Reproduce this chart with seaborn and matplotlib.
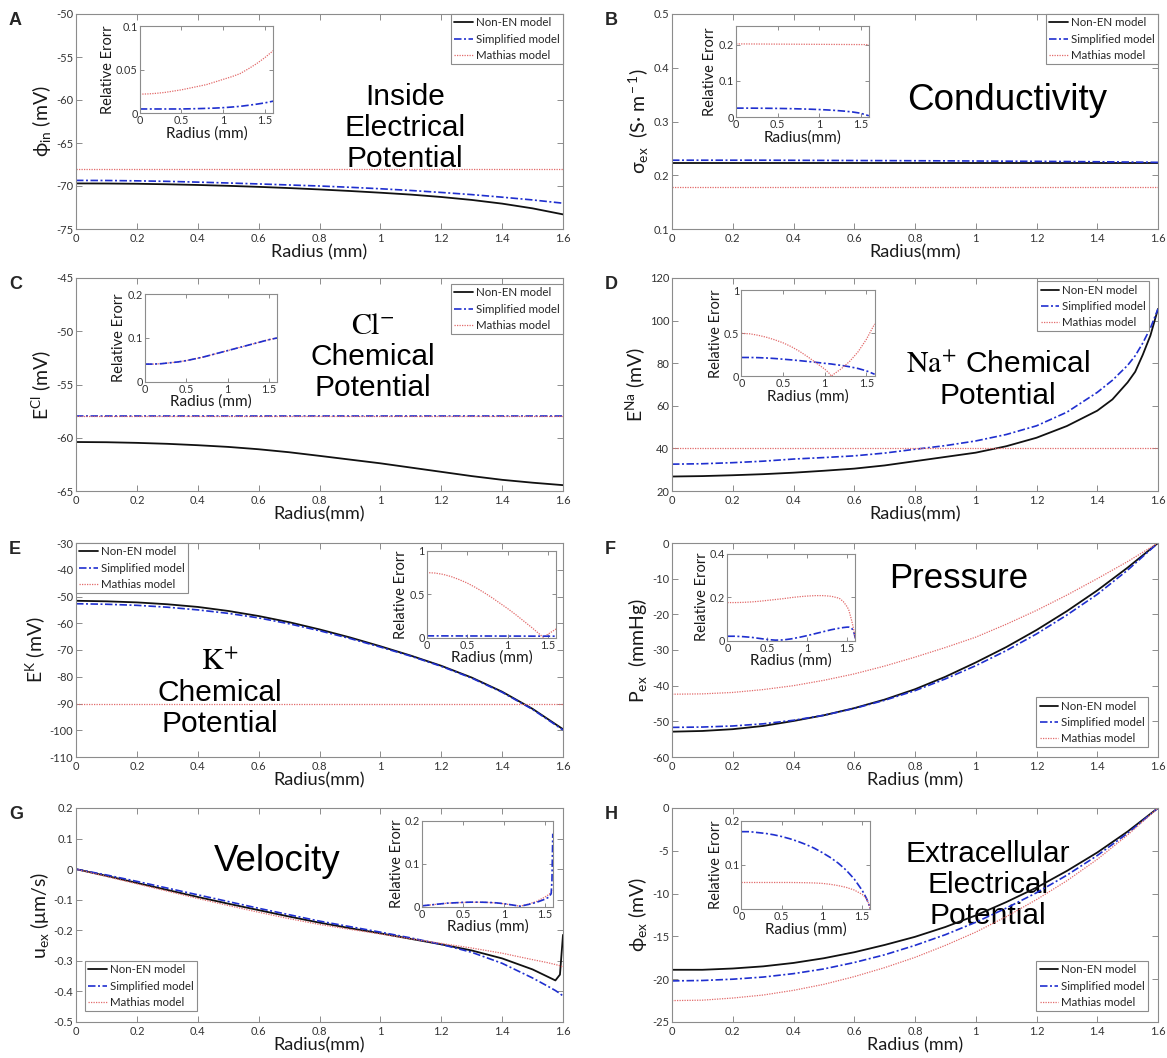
import matplotlib
matplotlib.use("Agg")
import matplotlib.pyplot as plt
from matplotlib.ticker import FuncFormatter
import seaborn as sns

# ---------------------------------------------------------------- data
MODELS = ["Non-EN model", "Simplified model", "Mathias model"]

R = [0.0, 0.1, 0.2, 0.3, 0.4, 0.5, 0.6, 0.7, 0.8, 0.9, 1.0, 1.1, 1.2, 1.3, 1.4, 1.5, 1.6]
R_FLAT = [0.0, 1.6]

# A: inside electrical potential (mV)
A_nonen = [-69.70, -69.71, -69.74, -69.80, -69.88, -69.98, -70.10, -70.24, -70.40,
           -70.58, -70.78, -71.00, -71.28, -71.62, -72.05, -72.60, -73.30]
A_simp = [-69.35, -69.36, -69.40, -69.46, -69.55, -69.65, -69.76, -69.88, -70.00,
          -70.15, -70.32, -70.52, -70.75, -71.00, -71.30, -71.62, -72.00]
A_math = [-68.0, -68.0]
A_err_simp = [0.0050, 0.0050, 0.0050, 0.0050, 0.0050, 0.0050, 0.0052, 0.0054, 0.0057,
              0.0060, 0.0065, 0.0072, 0.0080, 0.0092, 0.0105, 0.0120, 0.0140]
A_err_math = [0.0220, 0.0223, 0.0230, 0.0240, 0.0255, 0.0270, 0.0290, 0.0310, 0.0330,
              0.0360, 0.0390, 0.0420, 0.0455, 0.0510, 0.0570, 0.0640, 0.0720]

# B: conductivity (S/m)
B_nonen = [0.222, 0.222]
B_simp = [0.2280, 0.2280, 0.2280, 0.2280, 0.2278, 0.2276, 0.2274, 0.2272, 0.2270,
          0.2268, 0.2265, 0.2262, 0.2259, 0.2255, 0.2251, 0.2246, 0.2240]
B_math = [0.178, 0.178]
B_err_simp = [0.0250, 0.0250, 0.0249, 0.0247, 0.0245, 0.0242, 0.0238, 0.0233, 0.0227,
              0.0220, 0.0211, 0.0200, 0.0186, 0.0168, 0.0145, 0.0110, 0.0040]
B_err_math = [0.202, 0.200]

# C: Cl- chemical potential (mV)
C_nonen = [-60.40, -60.42, -60.48, -60.57, -60.70, -60.86, -61.08, -61.36, -61.70,
           -62.05, -62.40, -62.80, -63.20, -63.60, -63.95, -64.22, -64.45]
C_simp = [-58.0, -58.0]
C_math = [-58.0, -58.0]
C_err_simp = [0.040, 0.040, 0.041, 0.043, 0.045, 0.048, 0.052, 0.056, 0.061,
              0.066, 0.071, 0.076, 0.081, 0.086, 0.091, 0.096, 0.100]
C_err_math = [0.040, 0.040, 0.041, 0.043, 0.045, 0.048, 0.052, 0.056, 0.061,
              0.066, 0.071, 0.076, 0.081, 0.086, 0.091, 0.096, 0.100]

# D: Na+ chemical potential (mV)
R_D = [0.0, 0.1, 0.2, 0.3, 0.4, 0.5, 0.6, 0.7, 0.8, 0.9, 1.0, 1.1, 1.2, 1.3, 1.4,
       1.45, 1.5, 1.525, 1.55, 1.575, 1.6]
D_nonen = [26.8, 27.0, 27.4, 27.9, 28.6, 29.5, 30.5, 32.0, 34.0, 36.0, 38.0, 41.0,
           45.0, 50.5, 57.7, 63.0, 71.0, 76.0, 84.0, 93.0, 105.5]
D_simp = [32.6, 32.8, 33.3, 34.0, 35.0, 35.7, 36.5, 37.8, 39.6, 41.3, 43.5, 46.5,
          50.6, 57.0, 66.3, 72.0, 79.0, 83.5, 89.5, 96.5, 105.5]
D_math = [40.0, 40.0]
R_D_ERR = [0.0, 0.1, 0.2, 0.3, 0.4, 0.5, 0.6, 0.7, 0.8, 0.9, 1.0, 1.05, 1.08, 1.1,
           1.2, 1.3, 1.4, 1.5, 1.6]
D_err_simp = [0.220, 0.220, 0.218, 0.214, 0.208, 0.200, 0.192, 0.183, 0.173, 0.163,
              0.152, 0.147, 0.144, 0.141, 0.128, 0.112, 0.092, 0.065, 0.025]
D_err_math = [0.500, 0.495, 0.478, 0.455, 0.425, 0.390, 0.345, 0.290, 0.225, 0.155,
              0.085, 0.040, 0.003, 0.020, 0.090, 0.175, 0.285, 0.430, 0.610]

# E: K+ chemical potential (mV)
E_nonen = [-51.6, -51.8, -52.2, -52.9, -53.9, -55.4, -57.3, -59.6, -62.3, -65.3,
           -68.6, -72.1, -75.9, -80.3, -85.6, -92.0, -99.6]
E_simp = [-52.7, -52.9, -53.3, -54.0, -55.0, -56.3, -58.0, -60.2, -62.8, -65.7,
          -68.9, -72.3, -76.1, -80.5, -85.8, -92.2, -99.9]
E_math = [-90.0, -90.0]
R_E_ERR = [0.0, 0.1, 0.2, 0.3, 0.4, 0.5, 0.6, 0.7, 0.8, 0.9, 1.0, 1.1, 1.2, 1.3, 1.4,
           1.44, 1.5, 1.55, 1.6]
E_err_math = [0.750, 0.745, 0.730, 0.705, 0.670, 0.630, 0.580, 0.525, 0.465, 0.400,
              0.335, 0.265, 0.190, 0.115, 0.035, 0.003, 0.040, 0.070, 0.100]
E_err_simp = [0.020, 0.016]

# F: extracellular pressure (mmHg)
F_nonen = [-52.9, -52.7, -52.2, -51.3, -49.9, -48.3, -46.3, -43.9, -41.0, -37.5,
           -33.5, -29.2, -24.4, -19.1, -13.3, -6.9, 0.0]
F_simp = [-51.7, -51.6, -51.3, -50.7, -49.7, -48.3, -46.4, -44.1, -41.4, -38.1,
          -34.4, -30.2, -25.5, -20.2, -14.4, -7.6, 0.0]
F_math = [-42.4, -42.3, -41.9, -41.1, -40.0, -38.5, -36.7, -34.5, -32.0, -29.3,
          -26.4, -22.8, -18.9, -14.6, -10.0, -5.2, 0.0]
R_F_ERR = [0.0, 0.1, 0.2, 0.3, 0.4, 0.5, 0.6, 0.7, 0.8, 0.9, 1.0, 1.1, 1.2, 1.3, 1.4,
           1.45, 1.5, 1.52, 1.55, 1.57, 1.59, 1.6]
F_err_simp = [0.020, 0.020, 0.018, 0.015, 0.010, 0.005, 0.002, 0.003, 0.008, 0.015,
              0.023, 0.032, 0.041, 0.050, 0.057, 0.060, 0.062, 0.062, 0.058, 0.050,
              0.030, 0.010]
F_err_math = [0.175, 0.175, 0.176, 0.178, 0.181, 0.185, 0.189, 0.193, 0.198, 0.202,
              0.205, 0.207, 0.207, 0.204, 0.195, 0.180, 0.155, 0.140, 0.100, 0.070,
              0.035, 0.010]

# G: extracellular velocity (um/s)
R_G = [0.0, 0.1, 0.2, 0.3, 0.4, 0.5, 0.6, 0.7, 0.8, 0.9, 1.0, 1.1, 1.2, 1.3, 1.4,
       1.5, 1.55, 1.575, 1.59, 1.6]
G_nonen = [0.0, -0.022, -0.045, -0.068, -0.091, -0.113, -0.134, -0.155, -0.175, -0.193,
           -0.210, -0.228, -0.246, -0.266, -0.292, -0.328, -0.352, -0.364, -0.345, -0.215]
G_simp = [0.0, -0.019, -0.040, -0.062, -0.084, -0.106, -0.128, -0.149, -0.170, -0.188,
          -0.206, -0.225, -0.246, -0.272, -0.308, -0.356, -0.383, -0.397, -0.407, -0.415]
G_math = [0.0, -0.024, -0.048, -0.072, -0.096, -0.119, -0.141, -0.162, -0.181, -0.197,
          -0.212, -0.228, -0.243, -0.258, -0.275, -0.296, -0.306, -0.312, -0.316, -0.320]
R_G_ERR = [0.0, 0.1, 0.2, 0.3, 0.4, 0.5, 0.6, 0.7, 0.8, 0.9, 1.0, 1.1, 1.2, 1.3, 1.4,
           1.5, 1.55, 1.58, 1.59, 1.6]
G_err_simp = [0.002, 0.004, 0.006, 0.008, 0.009, 0.010, 0.0105, 0.0105, 0.010, 0.009,
              0.007, 0.004, 0.001, 0.005, 0.010, 0.017, 0.022, 0.030, 0.060, 0.170]
G_err_math = [0.002, 0.004, 0.006, 0.008, 0.009, 0.0098, 0.0102, 0.0102, 0.0098, 0.0088,
              0.0068, 0.004, 0.001, 0.006, 0.012, 0.022, 0.028, 0.033, 0.035, 0.038]

# H: extracellular electrical potential (mV)
H_nonen = [-18.9, -18.9, -18.75, -18.5, -18.1, -17.55, -16.85, -16.0, -15.05, -13.9,
           -12.55, -11.0, -9.3, -7.35, -5.2, -2.75, 0.0]
H_simp = [-20.2, -20.15, -20.0, -19.75, -19.35, -18.8, -18.05, -17.15, -16.05, -14.8,
          -13.35, -11.7, -9.9, -7.85, -5.55, -2.95, 0.0]
H_math = [-22.5, -22.45, -22.2, -21.85, -21.3, -20.6, -19.7, -18.65, -17.45, -16.05,
          -14.5, -12.7, -10.7, -8.5, -6.0, -3.15, 0.0]
R_H_ERR = [0.0, 0.1, 0.2, 0.3, 0.4, 0.5, 0.6, 0.7, 0.8, 0.9, 1.0, 1.1, 1.2, 1.3, 1.4,
           1.5, 1.55, 1.58, 1.6]
H_err_simp = [0.175, 0.175, 0.173, 0.171, 0.168, 0.164, 0.159, 0.153, 0.146, 0.138,
              0.128, 0.117, 0.104, 0.088, 0.068, 0.042, 0.025, 0.012, 0.0]
H_err_math = [0.060, 0.060, 0.060, 0.060, 0.060, 0.060, 0.060, 0.0598, 0.0595, 0.059,
              0.058, 0.056, 0.053, 0.049, 0.043, 0.033, 0.024, 0.012, 0.0]

# ---------------------------------------------------------------- style
sns.set_theme(style="ticks")
plt.rcParams.update({
    "font.family": ["Lato", "DejaVu Sans"],
    "mathtext.fontset": "custom",
    "mathtext.rm": "Lato",
    "mathtext.it": "Lato:italic",
    "axes.unicode_minus": False,
    "axes.edgecolor": "#8c8c8c",
    "axes.linewidth": 0.8,
    "axes.facecolor": "white",
    "xtick.direction": "in",
    "ytick.direction": "in",
    "xtick.top": True,
    "ytick.right": True,
    "xtick.color": "#8c8c8c",
    "ytick.color": "#8c8c8c",
    "xtick.labelcolor": "#333333",
    "ytick.labelcolor": "#333333",
    "xtick.major.size": 4,
    "ytick.major.size": 4,
    "xtick.major.width": 0.7,
    "ytick.major.width": 0.7,
    "xtick.major.pad": 3,
    "ytick.major.pad": 2,
})

STYLE = {
    "Non-EN model": dict(color="#111111", linestyle="-", lw=1.3),
    "Simplified model": dict(color="#1f2fcf", linestyle=(0, (4.5, 1.5, 1.2, 1.5)), lw=1.2),
    "Mathias model": dict(color="#e26a6a", linestyle=(0, (1, 1)), lw=0.9),
}

fmt = FuncFormatter(lambda v, p: f"{v:g}")

W, H = 1167, 1058
fig = plt.figure(figsize=(W / 100, H / 100), dpi=100)

COLS = [(76, 563), (672, 1158)]
ROWS = [(14, 229), (278, 491), (543, 757), (808, 1022)]


def make_axes(col, row):
    x0, x1 = COLS[col]
    y0, y1 = ROWS[row]
    return fig.add_axes([x0 / W, 1 - y1 / H, (x1 - x0) / W, (y1 - y0) / H])


def draw_series(ax, xs, ys, model, label=True):
    sns.lineplot(x=xs, y=ys, ax=ax, estimator=None, sort=False,
                 label=model if label else None, legend=False, **STYLE[model])


panels = [
    dict(letter="A", col=0, row=0,
         main=[(R, A_nonen), (R, A_simp), (R_FLAT, A_math)],
         ylim=(-75, -50), yticks=[-75, -70, -65, -60, -55, -50],
         ylabel="ϕ$_{\\rm in}$ (mV)", xlabel="Radius (mm)",
         inset=[0.131, 0.538, 0.274, 0.405],
         err=[(R, A_err_simp, "Simplified model"), (R, A_err_math, "Mathias model")],
         elim=(0, 0.1), eticks=[0, 0.05, 0.1], exlabel="Radius (mm)",
         legend=dict(loc="upper right", bbox_to_anchor=(1.0, 1.0)),
         text="Inside\nElectrical\nPotential", tx=0.675, ty=0.47, tsize=21.5),
    dict(letter="B", col=1, row=0,
         main=[(R_FLAT, B_nonen), (R, B_simp), (R_FLAT, B_math)],
         ylim=(0.1, 0.5), yticks=[0.1, 0.2, 0.3, 0.4, 0.5],
         ylabel="σ$_{\\rm ex}$  (S· m$^{\\rm -1}$)", xlabel="Radius(mm)",
         inset=[0.132, 0.52, 0.273, 0.422],
         err=[(R, B_err_simp, "Simplified model"), (R_FLAT, B_err_math, "Mathias model")],
         elim=(0, 0.25), eticks=[0, 0.1, 0.2], exlabel="Radius(mm)",
         legend=dict(loc="upper right", bbox_to_anchor=(1.0, 1.0)),
         text="Conductivity", tx=0.69, ty=0.60, tsize=26.5),
    dict(letter="C", col=0, row=1,
         main=[(R, C_nonen), (R_FLAT, C_simp), (R_FLAT, C_math)],
         ylim=(-65, -45), yticks=[-65, -60, -55, -50, -45],
         ylabel="E$^{\\rm Cl}$ (mV)", xlabel="Radius(mm)",
         inset=[0.142, 0.514, 0.271, 0.409],
         err=[(R, C_err_math, "Mathias model"), (R, C_err_simp, "Simplified model")],
         elim=(0, 0.2), eticks=[0, 0.1, 0.2], exlabel="Radius (mm)",
         legend=dict(loc="upper right", bbox_to_anchor=(1.0, 0.972)),
         text="$\\mathrm{Cl}^{-}$\nChemical\nPotential", tx=0.61, ty=0.63, tsize=21.5),
    dict(letter="D", col=1, row=1,
         main=[(R_D, D_nonen), (R_D, D_simp), (R_FLAT, D_math)],
         ylim=(20, 120), yticks=[20, 40, 60, 80, 100, 120],
         ylabel="E$^{\\rm Na}$ (mV)", xlabel="Radius(mm)",
         inset=[0.143, 0.538, 0.274, 0.404],
         err=[(R_D_ERR, D_err_simp, "Simplified model"), (R_D_ERR, D_err_math, "Mathias model")],
         elim=(0, 1), eticks=[0, 0.5, 1], exlabel="Radius (mm)",
         legend=dict(loc="upper right", bbox_to_anchor=(0.982, 0.985)),
         text="$\\mathrm{Na}^{+}$ Chemical\nPotential", tx=0.67, ty=0.52, tsize=21.5),
    dict(letter="E", col=0, row=2,
         main=[(R, E_nonen), (R, E_simp), (R_FLAT, E_math)],
         ylim=(-110, -30), yticks=[-110, -100, -90, -80, -70, -60, -50, -40, -30],
         ylabel="E$^{\\rm K}$ (mV)", xlabel="Radius(mm)",
         inset=[0.72, 0.558, 0.266, 0.405],
         err=[(R_E_ERR, E_err_math, "Mathias model"), (R_FLAT, E_err_simp, "Simplified model")],
         elim=(0, 1), eticks=[0, 0.5, 1], exlabel="Radius (mm)",
         legend=dict(loc="upper left", bbox_to_anchor=(0.0, 1.0)),
         text="$\\mathrm{K}^{+}$\nChemical\nPotential", tx=0.295, ty=0.30, tsize=21.5),
    dict(letter="F", col=1, row=2,
         main=[(R, F_nonen), (R, F_simp), (R, F_math)],
         ylim=(-60, 0), yticks=[-60, -50, -40, -30, -20, -10, 0],
         ylabel="P$_{\\rm ex}$  (mmHg)", xlabel="Radius (mm)",
         inset=[0.114, 0.544, 0.263, 0.406],
         err=[(R_F_ERR, F_err_simp, "Simplified model"), (R_F_ERR, F_err_math, "Mathias model")],
         elim=(0, 0.4), eticks=[0, 0.2, 0.4], exlabel="Radius (mm)",
         legend=dict(loc="lower right", bbox_to_anchor=(0.98, 0.045)),
         text="Pressure", tx=0.59, ty=0.835, tsize=25),
    dict(letter="G", col=0, row=3,
         main=[(R_G, G_nonen), (R_G, G_simp), (R_G, G_math)],
         ylim=(-0.5, 0.2), yticks=[-0.5, -0.4, -0.3, -0.2, -0.1, 0, 0.1, 0.2],
         ylabel="u$_{\\rm ex}$ (μm/s)", xlabel="Radius(mm)",
         inset=[0.711, 0.539, 0.268, 0.401],
         err=[(R_G_ERR, G_err_math, "Mathias model"), (R_G_ERR, G_err_simp, "Simplified model")],
         elim=(0, 0.2), eticks=[0, 0.1, 0.2], exlabel="Radius (mm)",
         legend=dict(loc="lower left", bbox_to_anchor=(0.018, 0.05)),
         text="Velocity", tx=0.413, ty=0.75, tsize=26.5),
    dict(letter="H", col=1, row=3,
         main=[(R, H_nonen), (R, H_simp), (R, H_math)],
         ylim=(-25, 0), yticks=[-25, -20, -15, -10, -5, 0],
         ylabel="ϕ$_{\\rm ex}$ (mV)", xlabel="Radius (mm)",
         inset=[0.143, 0.528, 0.265, 0.413],
         err=[(R_H_ERR, H_err_simp, "Simplified model"), (R_H_ERR, H_err_math, "Mathias model")],
         elim=(0, 0.2), eticks=[0, 0.1, 0.2], exlabel="Radius (mm)",
         legend=dict(loc="lower right", bbox_to_anchor=(0.98, 0.05)),
         text="Extracellular\nElectrical\nPotential", tx=0.65, ty=0.64, tsize=21.5),
]

for p in panels:
    ax = make_axes(p["col"], p["row"])
    for (xs, ys), model in zip(p["main"], MODELS):
        draw_series(ax, xs, ys, model)
    ax.set_xlim(0, 1.6)
    ax.set_ylim(*p["ylim"])
    ax.set_xticks([0, 0.2, 0.4, 0.6, 0.8, 1.0, 1.2, 1.4, 1.6])
    ax.set_yticks(p["yticks"])
    ax.xaxis.set_major_formatter(fmt)
    ax.yaxis.set_major_formatter(fmt)
    ax.tick_params(labelsize=8)
    ax.set_xlabel(p["xlabel"], fontsize=13, labelpad=0, color="#1a1a1a")
    ax.set_ylabel(p["ylabel"], fontsize=14, labelpad=2, color="#1a1a1a")
    for s in ax.spines.values():
        s.set_visible(True)

    leg = ax.legend(fontsize=8.3, frameon=True, fancybox=False, framealpha=1,
                    edgecolor="#8c8c8c", handlelength=1.6, handletextpad=0.25,
                    labelspacing=0.45, borderpad=0.3, borderaxespad=0.0,
                    **p["legend"])
    leg.get_frame().set_linewidth(0.8)

    ax.text(p["tx"], p["ty"], p["text"], transform=ax.transAxes, ha="center",
            va="center", multialignment="center", fontsize=p["tsize"],
            family="Liberation Sans", math_fontfamily="stix", linespacing=1.15,
            color="black", zorder=1)

    ins = ax.inset_axes(p["inset"])
    for xs, ys, model in p["err"]:
        draw_series(ins, xs, ys, model, label=False)
    ins.set_xlim(0, 1.6)
    ins.set_ylim(*p["elim"])
    ins.set_xticks([0, 0.5, 1, 1.5])
    ins.set_yticks(p["eticks"])
    ins.xaxis.set_major_formatter(fmt)
    ins.yaxis.set_major_formatter(fmt)
    ins.tick_params(labelsize=7.8, length=3, pad=1.5)
    ins.set_xlabel(p["exlabel"], fontsize=11, labelpad=0, color="#1a1a1a")
    ins.set_ylabel("Relative Erorr", fontsize=10.5, labelpad=1, color="#1a1a1a")
    ins.set_facecolor("white")

    x0, _ = COLS[p["col"]]
    y0, _ = ROWS[p["row"]]
    fig.text((x0 - 67) / W, 1 - (y0 - 2) / H, p["letter"], fontsize=13,
             fontweight="bold", family="Liberation Sans", va="top", ha="left")

fig.savefig("out.png", dpi=100, facecolor="white")
